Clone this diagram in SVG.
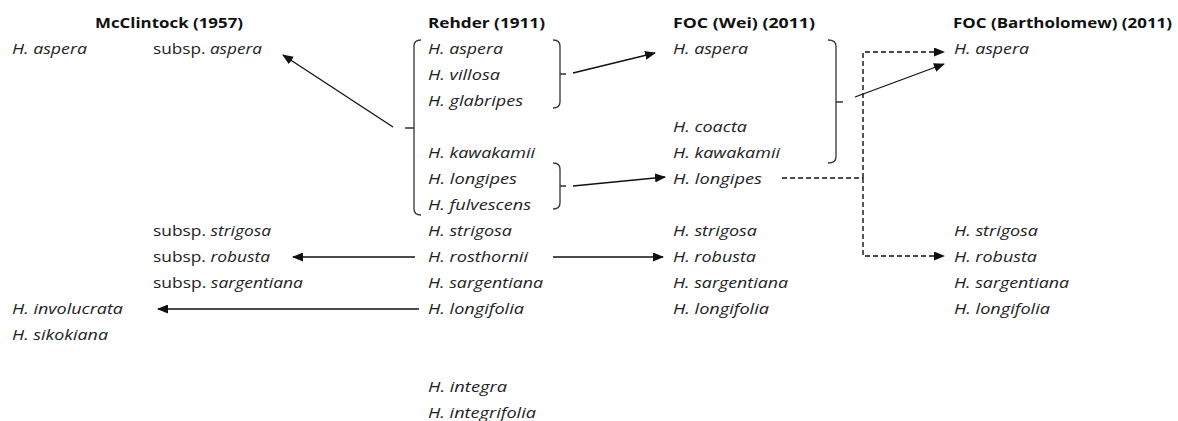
<svg xmlns="http://www.w3.org/2000/svg" width="1178" height="421" viewBox="0 0 1178 421">
<style>
text{font-family:"Open Sans","Liberation Sans",sans-serif;font-size:14px;fill:#222}
.t{font-weight:bold;fill:#111}
.i{font-style:italic}
.n{font-style:normal}
.br{fill:none;stroke:#333;stroke-width:1.3}
.c{fill:none;stroke:#111;stroke-width:1.3}
.d{fill:none;stroke:#111;stroke-width:1.4;stroke-dasharray:5,3}
</style>
<defs>
<marker id="ah" markerUnits="userSpaceOnUse" markerWidth="11" markerHeight="9" refX="10" refY="4.5" orient="auto"><path d="M0,0 L11,4.5 L0,9 z" fill="#111"/></marker>
</defs>
<rect width="1178" height="421" fill="#fff"/>

<g id="headers">
<text class="t" x="95" y="28" textLength="148" lengthAdjust="spacingAndGlyphs">McClintock (1957)</text>
<text class="t" x="428" y="28" textLength="117" lengthAdjust="spacingAndGlyphs">Rehder (1911)</text>
<text class="t" x="673" y="28" textLength="142" lengthAdjust="spacingAndGlyphs">FOC (Wei) (2011)</text>
<text class="t" x="953" y="28" textLength="219" lengthAdjust="spacingAndGlyphs">FOC (Bartholomew) (2011)</text>
</g>

<g id="mcc-aspera"><text class="i" x="12" y="54" textLength="75" lengthAdjust="spacingAndGlyphs">H. aspera</text></g>
<g id="mcc-involucrata"><text class="i" x="12" y="314" textLength="111" lengthAdjust="spacingAndGlyphs">H. involucrata</text></g>
<g id="mcc-sikokiana"><text class="i" x="12" y="340" textLength="96" lengthAdjust="spacingAndGlyphs">H. sikokiana</text></g>

<g id="mcc-subsp-aspera"><text x="153" y="54" textLength="109" lengthAdjust="spacingAndGlyphs">subsp. <tspan class="i">aspera</tspan></text></g>
<g id="mcc-subsp-strigosa"><text x="153" y="236" textLength="118" lengthAdjust="spacingAndGlyphs">subsp. <tspan class="i">strigosa</tspan></text></g>
<g id="mcc-subsp-robusta"><text x="153" y="262" textLength="117" lengthAdjust="spacingAndGlyphs">subsp. <tspan class="i">robusta</tspan></text></g>
<g id="mcc-subsp-sargentiana"><text x="153" y="288" textLength="150" lengthAdjust="spacingAndGlyphs">subsp. <tspan class="i">sargentiana</tspan></text></g>

<g id="reh-aspera"><text class="i" x="428" y="54" textLength="75" lengthAdjust="spacingAndGlyphs">H. aspera</text></g>
<g id="reh-villosa"><text class="i" x="428" y="80" textLength="72" lengthAdjust="spacingAndGlyphs">H. villosa</text></g>
<g id="reh-glabripes"><text class="i" x="428" y="106" textLength="95" lengthAdjust="spacingAndGlyphs">H. glabripes</text></g>
<g id="reh-kawakamii"><text class="i" x="428" y="158" textLength="107" lengthAdjust="spacingAndGlyphs">H. kawakamii</text></g>
<g id="reh-longipes"><text class="i" x="428" y="184" textLength="89" lengthAdjust="spacingAndGlyphs">H. longipes</text></g>
<g id="reh-fulvescens"><text class="i" x="428" y="210" textLength="103" lengthAdjust="spacingAndGlyphs">H. fulvescens</text></g>
<g id="reh-strigosa"><text class="i" x="428" y="236" textLength="84" lengthAdjust="spacingAndGlyphs">H. strigosa</text></g>
<g id="reh-rosthornii"><text class="i" x="428" y="262" textLength="100" lengthAdjust="spacingAndGlyphs">H. rosthornii</text></g>
<g id="reh-sargentiana"><text class="i" x="428" y="288" textLength="115" lengthAdjust="spacingAndGlyphs">H. sargentiana</text></g>
<g id="reh-longifolia"><text class="i" x="428" y="314" textLength="96" lengthAdjust="spacingAndGlyphs">H. longifolia</text></g>
<g id="reh-integra"><text class="i" x="428" y="392" textLength="79" lengthAdjust="spacingAndGlyphs">H. integra</text></g>
<g id="reh-integrifolia"><text class="i" x="428" y="418" textLength="108" lengthAdjust="spacingAndGlyphs">H. integrifolia</text></g>

<g id="wei-aspera"><text class="i" x="673" y="54" textLength="75" lengthAdjust="spacingAndGlyphs">H. aspera</text></g>
<g id="wei-coacta"><text class="i" x="673" y="132" textLength="74" lengthAdjust="spacingAndGlyphs">H. coacta</text></g>
<g id="wei-kawakamii"><text class="i" x="673" y="158" textLength="107" lengthAdjust="spacingAndGlyphs">H. kawakamii</text></g>
<g id="wei-longipes"><text class="i" x="673" y="184" textLength="89" lengthAdjust="spacingAndGlyphs">H. longipes</text></g>
<g id="wei-strigosa"><text class="i" x="673" y="236" textLength="84" lengthAdjust="spacingAndGlyphs">H. strigosa</text></g>
<g id="wei-robusta"><text class="i" x="673" y="262" textLength="83" lengthAdjust="spacingAndGlyphs">H. robusta</text></g>
<g id="wei-sargentiana"><text class="i" x="673" y="288" textLength="115" lengthAdjust="spacingAndGlyphs">H. sargentiana</text></g>
<g id="wei-longifolia"><text class="i" x="673" y="314" textLength="96" lengthAdjust="spacingAndGlyphs">H. longifolia</text></g>

<g id="bar-aspera"><text class="i" x="954" y="54" textLength="75" lengthAdjust="spacingAndGlyphs">H. aspera</text></g>
<g id="bar-strigosa"><text class="i" x="954" y="236" textLength="84" lengthAdjust="spacingAndGlyphs">H. strigosa</text></g>
<g id="bar-robusta"><text class="i" x="954" y="262" textLength="83" lengthAdjust="spacingAndGlyphs">H. robusta</text></g>
<g id="bar-sargentiana"><text class="i" x="954" y="288" textLength="115" lengthAdjust="spacingAndGlyphs">H. sargentiana</text></g>
<g id="bar-longifolia"><text class="i" x="954" y="314" textLength="96" lengthAdjust="spacingAndGlyphs">H. longifolia</text></g>

<g id="bracket-rehder-group">
<path class="br" d="M421,40 Q414,40 414,46 V209 Q414,215 421,215 M405,128 H414"/>
</g>
<g id="bracket-rehder-aspera">
<path class="br" d="M553,40 Q560,40 560,46 V102 Q560,108 553,108 M560,74 H566"/>
</g>
<g id="bracket-rehder-longipes">
<path class="br" d="M553,163 Q560,163 560,169 V203 Q560,209 553,209 M560,186 H566"/>
</g>
<g id="bracket-wei">
<path class="br" d="M828,40 Q836,40 836,46 V157 Q836,163 828,163 M836,102 H843"/>
</g>

<g id="connectors">
<line class="c" x1="393" y1="127" x2="283" y2="55" marker-end="url(#ah)"/>
<line class="c" x1="573" y1="73" x2="655" y2="53" marker-end="url(#ah)"/>
<line class="c" x1="573" y1="186" x2="665" y2="177" marker-end="url(#ah)"/>
<line class="c" x1="415" y1="257" x2="293" y2="257" marker-end="url(#ah)"/>
<line class="c" x1="553" y1="257" x2="663" y2="257" marker-end="url(#ah)"/>
<line class="c" x1="419" y1="309" x2="158" y2="309" marker-end="url(#ah)"/>
<line class="c" x1="855" y1="97" x2="944" y2="64" marker-end="url(#ah)"/>
<path class="d" d="M782,178 H863"/>
<path class="d" d="M863,178 V52 H944" marker-end="url(#ah)"/>
<path class="d" d="M863,178 V256 H944" marker-end="url(#ah)"/>
</g>
</svg>
